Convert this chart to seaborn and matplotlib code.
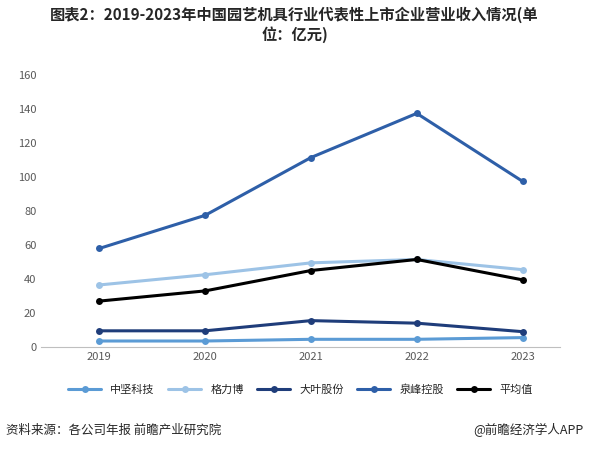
import matplotlib; matplotlib.use('Agg')
import matplotlib.pyplot as plt
import seaborn as sns
import pandas as pd

years = ["2019", "2020", "2021", "2022", "2023"]
zhongjian = [3.5, 3.5, 4.5, 4.5, 5.5]
gelibo = [36.5, 42.5, 49.5, 51.5, 45.5]
daye = [9.5, 9.5, 15.5, 14.0, 9.0]
quanfeng = [58.0, 77.5, 111.5, 137.5, 97.5]
avg = [27.0, 33.0, 45.0, 51.5, 39.5]

series = {"中坚科技": zhongjian, "格力博": gelibo, "大叶股份": daye, "泉峰控股": quanfeng, "平均值": avg}
colors = {"中坚科技": "#5b9bd5", "格力博": "#9dc3e6", "大叶股份": "#1f3d7a", "泉峰控股": "#2e5fa8", "平均值": "#000000"}

rows = [(y, k, v) for k, vals in series.items() for y, v in zip(years, vals)]
df = pd.DataFrame(rows, columns=["year", "company", "value"])

sns.set_style("white")
plt.rcParams['font.family'] = ['Noto Sans CJK SC', 'DejaVu Sans']

fig, ax = plt.subplots(figsize=(5.89, 4.5), dpi=100)
sns.lineplot(data=df, x="year", y="value", hue="company", palette=colors,
             marker="o", markersize=5, markeredgewidth=0, linewidth=2.2, ax=ax)

ax.set_ylim(0, 160)
ax.set_xlim(-0.55, 4.35)
ax.set_yticks(range(0, 161, 20))
ax.set_xlabel("")
ax.set_ylabel("")
for s in ["top", "right", "left"]:
    ax.spines[s].set_visible(False)
ax.spines["bottom"].set_color("#bfbfbf")
ax.tick_params(axis="both", labelsize=8, colors="#595959", length=0)

ax.legend(loc="upper center", bbox_to_anchor=(0.5, -0.1), ncol=5, frameon=False,
          fontsize=8, handlelength=3, columnspacing=1.2)

fig.suptitle("图表2：2019-2023年中国园艺机具行业代表性上市企业营业收入情况(单\n位：亿元)",
             fontsize=11, fontweight="bold", x=0.5, y=0.985)
fig.text(0.01, 0.035, "资料来源：各公司年报 前瞻产业研究院", fontsize=9)
fig.text(0.99, 0.035, "@前瞻经济学人APP", fontsize=9, ha="right")

fig.subplots_adjust(left=0.07, right=0.95, top=0.833, bottom=0.229)
fig.savefig("out.png")
